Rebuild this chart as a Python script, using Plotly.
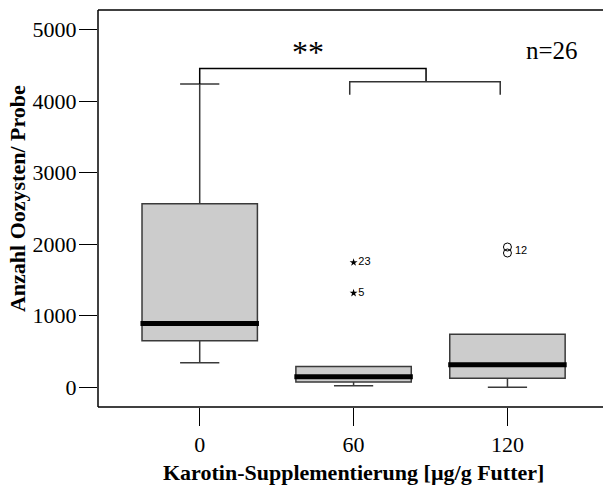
import plotly.graph_objects as go

# ---- data ----
groups = ["0", "60", "120"]
xpos = [0, 1, 2]
q1 = [650, 74, 126]
median = [892, 147, 315]
q3 = [2566, 291, 741]
lowerfence = [343, 20, 0]
upperfence = [4241, 291, 741]

extreme_x = [1, 1]
extreme_y = [1745, 1317]
extreme_lbl = ["23", "5"]

outlier_x = [2, 2]
outlier_y = [1961, 1877]
outlier_lbl = "12"

y_ticks = [0, 1000, 2000, 3000, 4000, 5000]

serif = "Liberation Serif"
sans = "Liberation Sans"
BW = 0.75

fig = go.Figure()

for i in range(len(groups)):
    fig.add_trace(go.Box(
        x=[xpos[i]], q1=[q1[i]], median=[median[i]], q3=[q3[i]],
        lowerfence=[lowerfence[i]], upperfence=[upperfence[i]],
        width=BW, whiskerwidth=0.34, boxpoints=False,
        fillcolor="#cccccc", line=dict(color="#3a3a3a", width=1.5),
        showlegend=False, hoverinfo="skip"))
    fig.add_trace(go.Scatter(
        x=[xpos[i] - BW / 2 - 0.01, xpos[i] + BW / 2 + 0.01], y=[median[i], median[i]],
        mode="lines", line=dict(color="black", width=5),
        showlegend=False, hoverinfo="skip"))

fig.add_trace(go.Scatter(
    x=extreme_x, y=extreme_y, mode="markers+text", text=extreme_lbl,
    textposition="middle right",
    textfont=dict(family=sans, size=11, color="black"),
    marker=dict(symbol="star", size=6, color="black"),
    showlegend=False, hoverinfo="skip"))

fig.add_trace(go.Scatter(
    x=outlier_x, y=outlier_y, mode="markers",
    marker=dict(symbol="circle-open", size=8, color="black", line=dict(width=1)),
    showlegend=False, hoverinfo="skip"))
fig.add_annotation(x=outlier_x[0], y=(outlier_y[0] + outlier_y[1]) / 2, xshift=6,
                   xanchor="left", yanchor="middle", text=outlier_lbl, showarrow=False,
                   font=dict(family=sans, size=11, color="black"))

# significance brackets
fig.add_trace(go.Scatter(
    x=[0, 0, 1.471, 1.471], y=[4241, 4459, 4459, 4273],
    mode="lines", line=dict(color="black", width=1.5),
    showlegend=False, hoverinfo="skip"))
fig.add_trace(go.Scatter(
    x=[0.975, 0.975, 1.953, 1.953], y=[4091, 4273, 4273, 4091],
    mode="lines", line=dict(color="#333333", width=1.5),
    showlegend=False, hoverinfo="skip"))

fig.add_annotation(x=0.705, y=4690, text="**", showarrow=False,
                   font=dict(family=serif, size=32, color="black"))
fig.add_annotation(x=2.292, y=4706, text="n=26", showarrow=False,
                   font=dict(family=serif, size=25, color="black"))

fig.add_annotation(xref="x", yref="paper", x=1, y=0, yshift=-65, yanchor="middle",
                   text="<b>Karotin-Supplementierung [µg/g Futter]</b>", showarrow=False,
                   font=dict(family=serif, size=22, color="black"))
fig.add_annotation(xref="paper", yref="paper", x=0, y=0.525, xshift=-80.5, xanchor="center",
                   yanchor="middle", textangle=-90, text="<b>Anzahl Oozysten/ Probe</b>",
                   showarrow=False, font=dict(family=serif, size=22, color="black"))

# frame lines: left, bottom, top (open on the right)
frame = dict(color="black", width=1.5)
fig.add_shape(type="line", xref="paper", yref="paper", x0=0, x1=1, y0=1, y1=1, line=frame)
fig.add_shape(type="line", xref="paper", yref="paper", x0=0, x1=1, y0=0, y1=0, line=frame)
fig.add_shape(type="line", xref="paper", yref="paper", x0=0, x1=0, y0=0, y1=1, line=frame)

fig.update_layout(
    width=606, height=487,
    margin=dict(l=98, r=3, t=10, b=80),
    paper_bgcolor="white", plot_bgcolor="white",
    xaxis=dict(range=[-0.661, 2.621], tickvals=xpos, ticktext=groups,
               showgrid=False, zeroline=False, showline=False,
               ticks="outside", ticklen=18,
               tickcolor="black", tickwidth=1.2,
               tickfont=dict(family=serif, size=22, color="black")),
    yaxis=dict(range=[-277, 5276], tickvals=y_ticks,
               showgrid=False, zeroline=False, showline=False,
               ticks="outside", ticklen=18,
               tickcolor="black", tickwidth=1.2, ticklabelstandoff=-2,
               tickfont=dict(family=serif, size=22, color="black")),
)

fig.write_html("out.html")
